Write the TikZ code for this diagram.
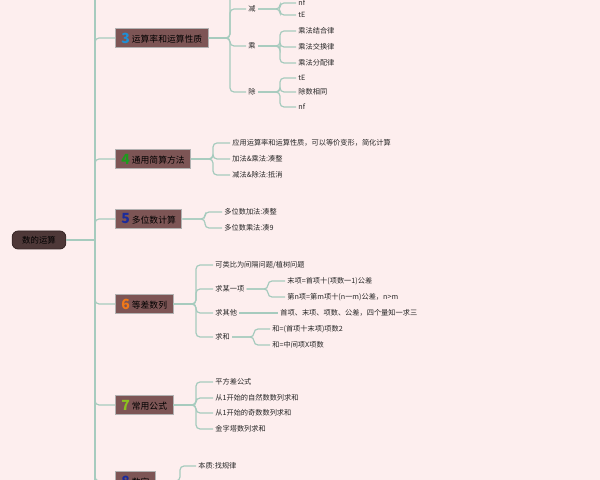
\documentclass[tikz,border=0pt]{standalone}
\usepackage{fontspec}
\newfontfamily\cjk{Noto Sans CJK SC}
\usetikzlibrary{positioning}
\definecolor{bgpink}{HTML}{FDEEEE}
\definecolor{linkgreen}{HTML}{A6CBBE}
\definecolor{boxbrown}{HTML}{7D5555}
\definecolor{rootbrown}{HTML}{4E3838}
\definecolor{numblue}{HTML}{1E8FD5}
\definecolor{numgreen}{HTML}{1E9A1E}
\definecolor{numnavy}{HTML}{1C2C9C}
\definecolor{numorange}{HTML}{F07818}
\definecolor{numlime}{HTML}{8CC21E}

\tikzset{
    link/.style={draw=linkgreen, line width=0.6pt, rounded corners=2pt},
    rootbox/.style={
        fill=rootbrown, rounded corners=3pt, draw=rootbrown!70!black,
        font=\cjk\fontsize{4.2}{5}\selectfont, text=black,
        minimum height=9pt, inner xsep=5pt, inner ysep=1pt
    },
    topic/.style={
        fill=boxbrown, draw=gray!60, line width=0.4pt,
        font=\cjk\fontsize{4.4}{5}\selectfont, text=black,
        minimum height=9.5pt, inner xsep=3pt, inner ysep=0pt, anchor=west
    },
    leaf/.style={
        font=\cjk\fontsize{3.6}{4.5}\selectfont, text=black!85,
        anchor=west, inner sep=1pt
    }
}
\newcommand{\bignum}[2]{\raisebox{-0.4pt}{\color{#1}\fontsize{7}{7}\selectfont\bfseries #2}}

\begin{document}
\begin{tikzpicture}[x=0.5pt,y=-0.5pt]
\fill[bgpink] (0,0) rectangle (600,480);
\useasboundingbox (0,0) rectangle (600,480);

% root and trunk
\node (root) [rootbox] at (39,240) {数的运算};
\coordinate (trunk) at (95,240);
\coordinate (trunktop) at (95,0);
\coordinate (trunkbot) at (95,480);

% topics
\node (b3) [topic] at (115,38) {\bignum{numblue}{3} 运算率和运算性质};
\node (b4) [topic] at (115,159) {\bignum{numgreen}{4} 通用简算方法};
\node (b5) [topic] at (115,219) {\bignum{numnavy}{5} 多位数计算};
\node (b6) [topic] at (115,304) {\bignum{numorange}{6} 等差数列};
\node (b7) [topic] at (115,405) {\bignum{numlime}{7} 常用公式};
\node (b8) [topic] at (115,481) {\bignum{numnavy}{8} 数字};

\draw[link] (trunktop) -- (trunkbot);
\draw[link] (root) -- (trunk);
\foreach \b in {b3,b4,b5,b6,b7,b8}
    \draw[link] (trunk) |- (\b.west);

% 3
\node (jian) [leaf] at (246,9) {减};
\node (cheng) [leaf] at (246,46) {乘};
\node (chu) [leaf] at (246,92) {除};
\coordinate (b3top) at (230,0);
\draw[link] (b3.east) -- (230,38) -- (b3top);
\foreach \c in {jian,cheng,chu}
    \draw[link] (b3.east) -- (230,38) |- (\c.west);

\node (j1) [leaf] at (296,3) {nf};
\node (j2) [leaf] at (296,15) {tE};
\foreach \c in {j1,j2}
    \draw[link] (jian.east) -- (280,9) |- (\c.west);

\node (c1) [leaf] at (296,31) {乘法结合律};
\node (c2) [leaf] at (296,47) {乘法交换律};
\node (c3) [leaf] at (296,63) {乘法分配律};
\foreach \c in {c1,c2,c3}
    \draw[link] (cheng.east) -- (280,46) |- (\c.west);

\node (d1) [leaf] at (296,78) {tE};
\node (d2) [leaf] at (296,92) {除数相同};
\node (d3) [leaf] at (296,107) {nf};
\foreach \c in {d1,d2,d3}
    \draw[link] (chu.east) -- (280,92) |- (\c.west);

% 4
\node (s1) [leaf] at (230,143) {应用运算率和运算性质，可以等价变形，简化计算};
\node (s2) [leaf] at (230,159) {加法\&乘法:凑整};
\node (s3) [leaf] at (230,175) {减法\&除法:抵消};
\foreach \c in {s1,s2,s3}
    \draw[link] (b4.east) -- (213,159) |- (\c.west);

% 5
\node (m1) [leaf] at (222,212) {多位数加法:凑整};
\node (m2) [leaf] at (222,228) {多位数乘法:凑9};
\foreach \c in {m1,m2}
    \draw[link] (b5.east) -- (205,219) |- (\c.west);

% 6
\node (e1) [leaf] at (213,265) {可类比为间隔问题/植树问题};
\node (e2) [leaf] at (213,289) {求某一项};
\node (e3) [leaf] at (213,313) {求其他};
\node (e4) [leaf] at (213,337) {求和};
\foreach \c in {e1,e2,e3,e4}
    \draw[link] (b6.east) -- (196,304) |- (\c.west);

\node (f1) [leaf] at (285,281) {末项=首项十(项数一1)公差};
\node (f2) [leaf] at (285,297) {第n项=第m项十(n一m)公差，n>m};
\foreach \c in {f1,f2}
    \draw[link] (e2.east) -- (268,289) |- (\c.west);

\node (g1) [leaf] at (278,313) {首项、末项、项数、公差，四个量知一求三};
\draw[link] (e3.east) -- (g1.west);

\node (h1) [leaf] at (270,329) {和=(首项十末项)项数2};
\node (h2) [leaf] at (270,345) {和=中间项X项数};
\foreach \c in {h1,h2}
    \draw[link] (e4.east) -- (254,337) |- (\c.west);

% 7
\node (k1) [leaf] at (213,382) {平方差公式};
\node (k2) [leaf] at (213,398) {从1开始的自然数数列求和};
\node (k3) [leaf] at (213,413) {从1开始的奇数数列求和};
\node (k4) [leaf] at (213,429) {金字塔数列求和};
\foreach \c in {k1,k2,k3,k4}
    \draw[link] (b7.east) -- (196,405) |- (\c.west);

% 8
\node (n1) [leaf] at (196,466) {本质:找规律};
\draw[link] (b8.east) -- (180,481) |- (n1.west);
\draw[link] (180,481) -- (180,480);
\end{tikzpicture}
\end{document}
